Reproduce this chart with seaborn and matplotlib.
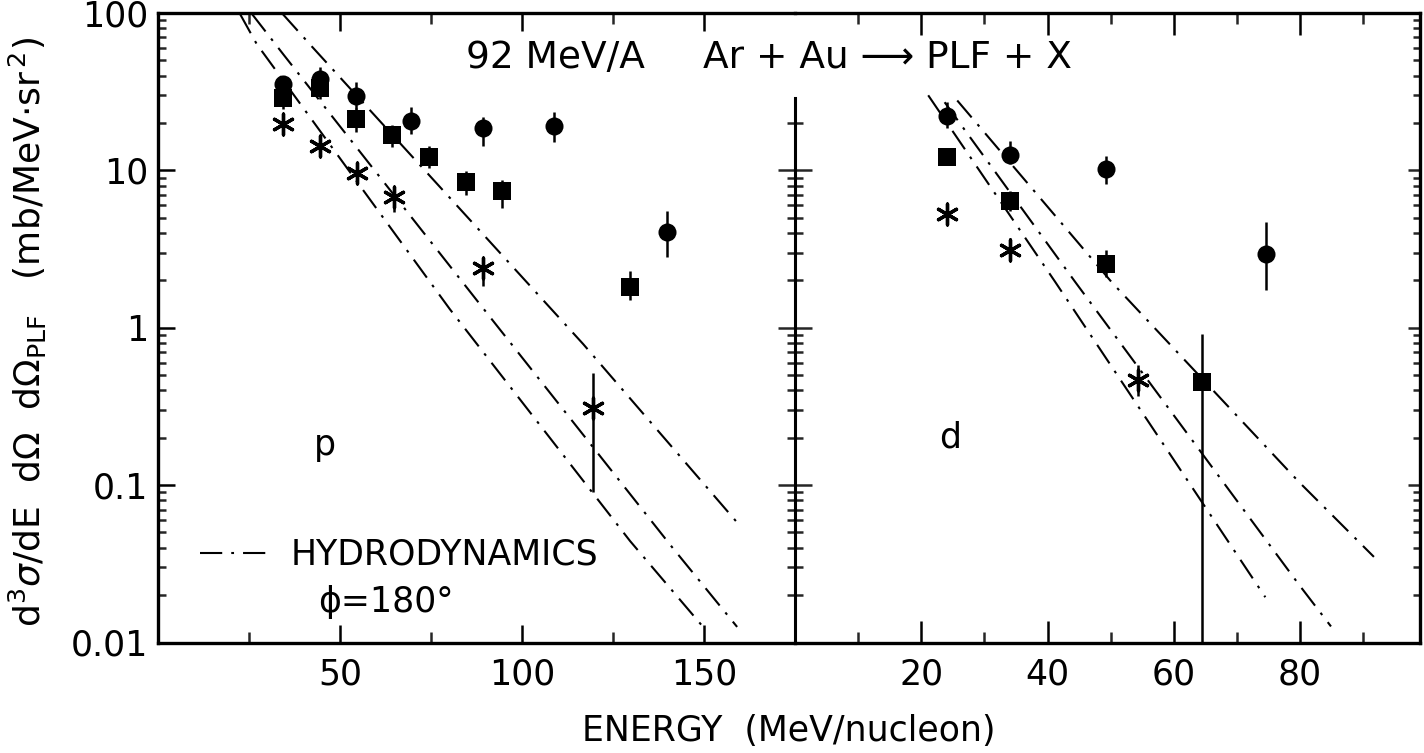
import numpy as np
import matplotlib
matplotlib.use("Agg")
import matplotlib.pyplot as plt
import seaborn as sns
from matplotlib.ticker import FixedLocator, NullFormatter, LogLocator

# ---------------- data: protons (left panel, "p") ----------------
p_circ_E   = [34.3, 44.5, 54.4, 69.5, 89.3, 108.8, 139.8]
p_circ_val = [35.3, 37.8, 29.9, 20.7, 18.6, 19.2, 4.06]
p_circ_lo  = [31.5, 31.0, 24.5, 17.0, 14.3, 15.2, 2.8]
p_circ_hi  = [40.0, 45.7, 36.5, 25.3, 21.9, 23.6, 5.5]

p_sq_E   = [34.3, 44.5, 54.4, 64.3, 74.5, 84.6, 94.5, 129.7]
p_sq_val = [29.0, 33.4, 21.2, 16.9, 12.1, 8.4, 7.4, 1.82]
p_sq_lo  = [24.5, 28.5, 17.5, 14.0, 10.4, 7.0, 5.8, 1.5]
p_sq_hi  = [33.5, 38.5, 25.0, 19.5, 14.2, 9.9, 8.7, 2.3]

p_st_E   = [34.3, 44.5, 54.6, 64.8, 89.4, 119.6]
p_st_val = [19.6, 14.2, 9.58, 6.76, 2.40, 0.307]
p_st_lo  = [17.8, 12.2, 8.2, 5.4, 1.85, 0.090]
p_st_hi  = [21.5, 16.2, 11.1, 7.9, 2.75, 0.514]

# hydrodynamics curves (protons)
p_h1_E   = [22.5, 27.1, 80.2, 129.7, 149.7]
p_h1_val = [98.9, 63.6, 1.31, 0.0441, 0.0126]
p_h2_E   = [25.8, 34.4, 88.5, 141.1, 159.1]
p_h2_val = [98.7, 54.7, 1.405, 0.0407, 0.01256]
p_h3_E   = [34.3, 42.2, 116.8, 159.7]
p_h3_val = [98.3, 61.5, 0.788, 0.0558]

# ---------------- data: deuterons (right panel, "d") ----------------
d_circ_E   = [24.0, 34.1, 49.2, 74.6]
d_circ_val = [22.3, 12.6, 10.2, 2.93]
d_circ_lo  = [18.5, 10.9, 8.2, 1.75]
d_circ_hi  = [27.0, 15.3, 12.4, 4.72]

d_sq_E   = [24.0, 34.1, 49.2, 64.5]
d_sq_val = [12.2, 6.37, 2.55, 0.449]
d_sq_lo  = [11.2, 5.5, 2.1, 0.005]
d_sq_hi  = [13.2, 7.4, 3.1, 0.912]

d_st_E   = [24.0, 34.1, 54.4]
d_st_val = [5.28, 3.14, 0.465]
d_st_lo  = [4.9, 2.7, 0.37]
d_st_hi  = [5.7, 3.7, 0.58]

d_h1_E   = [21.1, 41.2, 74.5]
d_h1_val = [30.0, 1.96, 0.0194]
d_h2_E   = [23.7, 44.4, 79.8, 84.9]
d_h2_val = [27.1, 1.95, 0.0234, 0.01265]
d_h3_E   = [25.7, 50.2, 79.8, 91.7]
d_h3_val = [27.8, 1.94, 0.105, 0.035]

# ---------------- axis ticks / labels ----------------
ytick_vals   = [0.01, 0.1, 1, 10, 100]
ytick_labels = ["0.01", "0.1", "1", "10", "100"]
p_xmajor = [50, 100, 150]
p_xminor = [25, 75, 125]
d_xmajor = [20, 40, 60, 80]
d_xminor = [10, 30, 50, 70, 90]
mid_major = [0.1, 1, 10]
mid_minor = [k * 10.0 ** e for e in (-2, -1, 0) for k in range(2, 10)] + [20]

# ---------------- style ----------------
sns.set_style("ticks")
plt.rcParams["font.family"] = ["DejaVu Sans"]
plt.rcParams["mathtext.fontset"] = "dejavusans"
plt.rcParams["lines.scale_dashes"] = False
plt.rcParams["text.color"] = "black"
plt.rcParams["axes.labelcolor"] = "black"

K = "black"
DASHDOT = (0, (16, 6.5, 2, 6.5))
FS = 25

fig = plt.figure(figsize=(14.24, 7.53), dpi=100)
fig.patch.set_facecolor("white")

L, M, R = 158 / 1424, 795 / 1424, 1420 / 1424
B, T = 1 - 642.5 / 753, 1 - 13 / 753
ax1 = fig.add_axes([L, B, M - L, T - B])
ax2 = fig.add_axes([M, B, R - M, T - B])
ax3 = fig.add_axes([M, B, R - M, T - B])  # middle axis overlay

for ax in (ax1, ax2, ax3):
    ax.set_yscale("log")
    ax.set_ylim(0.01, 100)
    ax.set_facecolor("none")
ax1.set_xlim(0, 175)
ax2.set_xlim(0, 99)
ax3.set_xlim(0, 99)


def draw_panel(ax, hydro, circ, sq, st):
    for E, v in hydro:
        sns.lineplot(x=E, y=v, ax=ax, color=K, lw=1.5, linestyle=DASHDOT,
                     sort=False, estimator=None)
    for E, v, lo, hi in (circ, sq, st):
        ax.vlines(E, lo, hi, color=K, lw=1.8)
    E, v = circ[0], circ[1]
    sns.scatterplot(x=E, y=v, ax=ax, marker="o", s=13 ** 2, color=K,
                    edgecolor=K, linewidth=0, zorder=3)
    E, v = sq[0], sq[1]
    sns.scatterplot(x=E, y=v, ax=ax, marker="s", s=12.5 ** 2, color=K,
                    edgecolor=K, linewidth=0, zorder=3)
    E, v = st[0], st[1]
    sns.scatterplot(x=E, y=v, ax=ax, marker=(6, 2, 0), s=15 ** 2, color=K,
                    edgecolor=K, linewidth=2.4, zorder=3)


draw_panel(ax1,
           [(p_h1_E, p_h1_val), (p_h2_E, p_h2_val), (p_h3_E, p_h3_val)],
           (p_circ_E, p_circ_val, p_circ_lo, p_circ_hi),
           (p_sq_E, p_sq_val, p_sq_lo, p_sq_hi),
           (p_st_E, p_st_val, p_st_lo, p_st_hi))
draw_panel(ax2,
           [(d_h1_E, d_h1_val), (d_h2_E, d_h2_val), (d_h3_E, d_h3_val)],
           (d_circ_E, d_circ_val, d_circ_lo, d_circ_hi),
           (d_sq_E, d_sq_val, d_sq_lo, d_sq_hi),
           (d_st_E, d_st_val, d_st_lo, d_st_hi))

for ax in (ax1, ax2, ax3):
    ax.set_xlabel("")
    ax.set_ylabel("")
    for s in ax.spines.values():
        s.set_linewidth(2.4)
        s.set_color(K)

# left panel
ax1.spines["right"].set_visible(False)
ax1.set_yticks(ytick_vals, labels=ytick_labels)
ax1.yaxis.set_minor_locator(LogLocator(base=10, subs=np.arange(2, 10), numticks=20))
ax1.yaxis.set_minor_formatter(NullFormatter())
ax1.set_xticks(p_xmajor, labels=[str(v) for v in p_xmajor])
ax1.xaxis.set_minor_locator(FixedLocator(p_xminor))
ax1.tick_params(axis="y", which="major", direction="in", length=12, width=1.8,
                left=True, right=False, labelsize=FS, pad=7, colors=K)
ax1.tick_params(axis="y", which="minor", direction="in", length=6, width=1.8,
                left=True, right=False)
ax1.tick_params(axis="x", which="major", direction="in", length=13, width=1.8,
                top=True, bottom=True, labelsize=FS, pad=11, colors=K)
ax1.tick_params(axis="x", which="minor", direction="in", length=8, width=1.8,
                top=True, bottom=True)

# right panel
ax2.spines["left"].set_visible(False)
ax2.set_yticks(ytick_vals)
ax2.yaxis.set_minor_locator(LogLocator(base=10, subs=np.arange(2, 10), numticks=20))
ax2.yaxis.set_minor_formatter(NullFormatter())
ax2.set_xticks(d_xmajor, labels=[str(v) for v in d_xmajor])
ax2.xaxis.set_minor_locator(FixedLocator(d_xminor))
ax2.tick_params(axis="y", which="major", direction="in", length=9, width=1.8,
                left=False, right=True, labelleft=False, labelright=False)
ax2.tick_params(axis="y", which="minor", direction="in", length=5, width=1.8,
                left=False, right=True)
ax2.tick_params(axis="x", which="major", direction="in", length=16, width=1.8,
                top=True, bottom=True, labelsize=FS, pad=11, colors=K)
ax2.tick_params(axis="x", which="minor", direction="in", length=8, width=1.8,
                top=True, bottom=True)

# middle axis (crossing ticks, stops below the top)
for side in ("right", "top", "bottom"):
    ax3.spines[side].set_visible(False)
ax3.spines["left"].set_bounds(0.01, 29)
ax3.spines["left"].set_linewidth(2.2)
ax3.yaxis.set_major_locator(FixedLocator(mid_major))
ax3.yaxis.set_minor_locator(FixedLocator(mid_minor))
ax3.yaxis.set_major_formatter(NullFormatter())
ax3.yaxis.set_minor_formatter(NullFormatter())
ax3.set_xticks([])
ax3.tick_params(axis="y", which="major", direction="inout", length=24, width=1.8,
                left=True, right=False, labelleft=False)
ax3.tick_params(axis="y", which="minor", direction="inout", length=11, width=1.8,
                left=True, right=False)

# legend
leg = ax1.legend(handles=[ax1.lines[0]], labels=["HYDRODYNAMICS"],
                 loc="center left", bbox_to_anchor=(0.066, 0.139),
                 frameon=False, fontsize=25, handlelength=1.9,
                 handletextpad=0.7, borderpad=0, borderaxespad=0,
                 labelcolor=K)
ax1.text(0.251, 0.064, "ϕ=180°", transform=ax1.transAxes, fontsize=FS,
         ha="left", va="center", color=K)

# panel letters
ax1.text(0.262, 0.314, "p", transform=ax1.transAxes, fontsize=FS,
         ha="center", va="center", color=K)
ax2.text(0.248, 0.326, "d", transform=ax2.transAxes, fontsize=FS,
         ha="center", va="center", color=K)

# titles
fig.text(555 / 1424, 1 - 58 / 753, "92 MeV/A", fontsize=27, ha="center",
         va="center", color=K)
fig.text(703 / 1424, 1 - 58 / 753, "Ar + Au ⟶ PLF + X", fontsize=27,
         ha="left", va="center", color=K)

# axis labels
fig.text(789 / 1424, 1 - 731 / 753, "ENERGY  (MeV/nucleon)", fontsize=25,
         ha="center", va="center", color=K)
fig.text(28 / 1424, 1 - 332 / 753,
         r"d$^{3}\sigma$/dE  d$\Omega$  d$\Omega_{\rm PLF}$   (mb/MeV$\cdot$sr$^{\,2}$)",
         fontsize=26, rotation=90, ha="center", va="center", color=K)

fig.savefig("out.png", dpi=100, facecolor="white")
